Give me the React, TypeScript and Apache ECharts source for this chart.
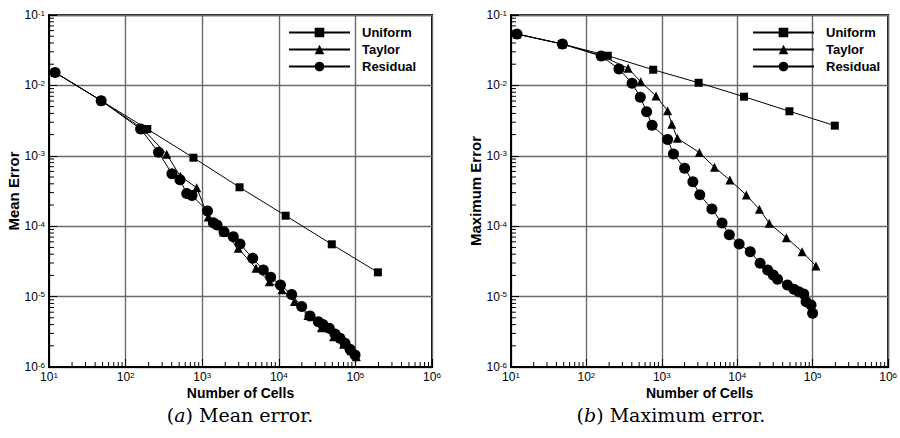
import React, { useEffect, useRef } from "react";
import * as echarts from "echarts";

// ---------- data ----------
const cellsUniform = [12, 48, 192, 768, 3072, 12288, 49152, 196608];
const meanUniform = [1.53e-2, 6.07e-3, 2.4e-3, 9.4e-4, 3.57e-4, 1.41e-4, 5.53e-5, 2.21e-5];
const maxUniform = [5.37e-2, 3.87e-2, 2.64e-2, 1.67e-2, 1.09e-2, 6.91e-3, 4.29e-3, 2.68e-3];

const cellsTaylorMean = [12, 48, 170, 344, 518, 847, 1200, 1900, 2958, 5035, 7515, 11000, 16000, 24000, 36000, 52000, 70000, 88000, 103000];
const meanTaylor = [1.53e-2, 6.07e-3, 2.38e-3, 1.05e-3, 5.13e-4, 3.52e-4, 1.35e-4, 8.3e-5, 4.85e-5, 2.52e-5, 1.63e-5, 1.25e-5, 8.5e-6, 5.4e-6, 3.6e-6, 2.7e-6, 2.1e-6, 1.7e-6, 1.4e-6];

const cellsResidualMean = [12, 48, 157, 269, 403, 513, 628, 736, 1173, 1397, 1560, 1926, 2548, 3116, 4563, 6277, 7834, 10517, 14734, 19900, 25540, 32800, 37760, 45600, 54200, 63000, 73200, 85100, 98900];
const meanResidual = [1.53e-2, 6.07e-3, 2.4e-3, 1.12e-3, 5.55e-4, 4.56e-4, 2.91e-4, 2.73e-4, 1.64e-4, 1.12e-4, 1.04e-4, 8.35e-5, 7.1e-5, 5.58e-5, 3.5e-5, 2.39e-5, 1.88e-5, 1.46e-5, 1.07e-5, 7.23e-6, 5.3e-6, 4.4e-6, 4.02e-6, 3.55e-6, 2.94e-6, 2.56e-6, 2.17e-6, 1.78e-6, 1.48e-6];

const cellsTaylorMax = [12, 48, 160, 357, 524, 837, 1191, 1356, 1608, 3143, 4989, 7980, 13180, 19660, 26560, 44770, 72440, 110400];
const maxTaylor = [5.37e-2, 3.87e-2, 2.62e-2, 1.75e-2, 1.13e-2, 7.06e-3, 4.38e-3, 2.8e-3, 1.77e-3, 1.11e-3, 6.87e-4, 4.53e-4, 2.77e-4, 1.74e-4, 1.1e-4, 6.87e-5, 4.35e-5, 2.72e-5];

const cellsResidualMax = [12, 48, 157, 270, 403, 518, 628, 743, 1191, 1426, 2004, 2578, 3183, 4606, 6278, 7840, 10590, 14870, 20090, 25300, 30000, 34200, 46200, 56400, 65500, 76100, 81800, 95100, 99800];
const maxResidual = [5.37e-2, 3.87e-2, 2.62e-2, 1.71e-2, 1.07e-2, 6.78e-3, 4.23e-3, 2.71e-3, 1.71e-3, 1.06e-3, 6.64e-4, 4.28e-4, 2.8e-4, 1.75e-4, 1.11e-4, 7.57e-5, 5.58e-5, 4.34e-5, 2.97e-5, 2.39e-5, 2.03e-5, 1.76e-5, 1.46e-5, 1.27e-5, 1.17e-5, 1.09e-5, 8.47e-6, 7.6e-6, 5.79e-6];

const seriesNames = ["Uniform", "Taylor", "Residual"];
const xDecadeExps = [1, 2, 3, 4, 5];
const yDecadeExps = [-6, -5, -4, -3, -2];
const minorMultipliers = [2, 3, 4, 5, 6, 7, 8, 9];
const xMin = 10, xMax = 1e6, yMin = 1e-6, yMax = 1e-1;

const zip = (xs: number[], ys: number[]) => xs.map((x, i) => [x, ys[i]]);

const xMinorVals: number[] = [];
xDecadeExps.forEach((e) => minorMultipliers.forEach((m) => xMinorVals.push(m * Math.pow(10, e))));
const yMinorVals: number[] = [];
yDecadeExps.forEach((e) => minorMultipliers.forEach((m) => yMinorVals.push(m * Math.pow(10, e))));

const FONT = "Liberation Sans";
const SERIF = "DejaVu Serif";

const powLabel = (v: number) => `{b|10}{s|${Math.round(Math.log10(v))}}`;
const labelRich = {
  b: { fontSize: 12, fontFamily: FONT, color: "#000", lineHeight: 12, verticalAlign: "bottom" },
  s: { fontSize: 8, fontFamily: FONT, color: "#000", lineHeight: 8, verticalAlign: "top" },
};

function buildOption() {
  const grids = [
    { left: 49, right: 468, top: 15, bottom: 71 },
    { left: 511, right: 6, top: 15, bottom: 71 },
  ];
  const yNames = ["Mean Error", "Maximum Error"];
  const xAxes = grids.map((_, i) => ({
    type: "log",
    logBase: 10,
    gridIndex: i,
    min: xMin,
    max: xMax,
    interval: 1,
    name: "Number of Cells",
    nameLocation: "middle",
    nameGap: 19,
    nameMoveOverlap: false,
    nameTextStyle: { fontFamily: FONT, fontWeight: "bold", fontSize: 14, color: "#000" },
    axisLine: { show: true, lineStyle: { color: "#000", width: 2 } },
    axisTick: { show: true, inside: true, length: 8, lineStyle: { color: "#000", width: 1 } },
    minorTick: { show: false },
    axisLabel: { formatter: powLabel, rich: labelRich, margin: 4, showMaxLabel: true, showMinLabel: true },
    splitLine: { show: true, lineStyle: { color: "#6a6a6a", width: 1.4 } },
  }));
  const yAxes = grids.map((_, i) => ({
    type: "log",
    logBase: 10,
    gridIndex: i,
    min: yMin,
    max: yMax,
    interval: 1,
    name: yNames[i],
    nameLocation: "middle",
    nameRotate: 90,
    nameGap: 28,
    nameMoveOverlap: false,
    nameTextStyle: { fontFamily: FONT, fontWeight: "bold", fontSize: 15, color: "#000" },
    axisLine: { show: true, lineStyle: { color: "#000", width: 2 } },
    axisTick: { show: true, inside: true, length: 8, lineStyle: { color: "#000", width: 1 } },
    minorTick: { show: false },
    axisLabel: { formatter: powLabel, rich: labelRich, margin: 4, showMaxLabel: true, showMinLabel: true },
    splitLine: { show: true, lineStyle: { color: "#6a6a6a", width: 1.4 } },
  }));

  const panels = [
    { u: meanUniform, tx: cellsTaylorMean, t: meanTaylor, rx: cellsResidualMean, r: meanResidual },
    { u: maxUniform, tx: cellsTaylorMax, t: maxTaylor, rx: cellsResidualMax, r: maxResidual },
  ];
  const series: any[] = [];
  panels.forEach((p, i) => {
    const common = {
      type: "line",
      xAxisIndex: i,
      yAxisIndex: i,
      lineStyle: { color: "#000", width: 1 },
      itemStyle: { color: "#000" },
      showAllSymbol: true,
      z: 5,
    };
    series.push({ ...common, name: seriesNames[0], symbol: "rect", symbolSize: 8, data: zip(cellsUniform, p.u) });
    series.push({ ...common, name: seriesNames[1], symbol: "triangle", symbolSize: 9, data: zip(p.tx, p.t) });
    series.push({ ...common, name: seriesNames[2], symbol: "circle", symbolSize: 11, data: zip(p.rx, p.r) });
    // minor ticks on bottom axis
    series.push({
      type: "custom",
      xAxisIndex: i,
      yAxisIndex: i,
      silent: true,
      z: 4,
      data: xMinorVals.map((v) => [v, yMin]),
      renderItem: (params: any, api: any) => {
        const pt = api.coord([api.value(0), api.value(1)]);
        return { type: "line", shape: { x1: pt[0], y1: pt[1], x2: pt[0], y2: pt[1] - 5 }, style: { stroke: "#000", lineWidth: 1 } };
      },
    });
    // minor ticks on left axis
    series.push({
      type: "custom",
      xAxisIndex: i,
      yAxisIndex: i,
      silent: true,
      z: 4,
      data: yMinorVals.map((v) => [xMin, v]),
      renderItem: (params: any, api: any) => {
        const pt = api.coord([api.value(0), api.value(1)]);
        return { type: "line", shape: { x1: pt[0], y1: pt[1], x2: pt[0] + 5, y2: pt[1] }, style: { stroke: "#000", lineWidth: 1 } };
      },
    });
  });

  const legendBase = {
    orient: "vertical",
    data: seriesNames,
    itemWidth: 61,
    itemHeight: 12,
    itemGap: 2,
    top: 25,
    padding: 0,
    selectedMode: false,
    textStyle: { fontFamily: FONT, fontWeight: "bold", fontSize: 13, lineHeight: 15, color: "#000", padding: [0, 0, 0, 7] },
  };

  const caption = (x: number, letter: string, rest: string) => ({
    type: "text",
    x,
    y: 415,
    style: {
      text: `({i|${letter}}) ${rest}`,
      font: `19px '${SERIF}'`,
      fill: "#000",
      align: "center",
      verticalAlign: "middle",
      rich: { i: { fontStyle: "italic", fontFamily: SERIF, fontSize: 19 } },
    },
  });

  return {
    animation: false,
    backgroundColor: "#fff",
    grid: grids.map((g) => ({ ...g, show: true, borderColor: "#000", borderWidth: 2, backgroundColor: "transparent" })),
    xAxis: xAxes,
    yAxis: yAxes,
    legend: [
      { ...legendBase, left: 288 },
      { ...legendBase, left: 752 },
    ],
    series,
    graphic: [caption(240, "a", "Mean error."), caption(671, "b", "Maximum error.")],
  };
}

export default function App() {
  const ref = useRef<HTMLDivElement>(null);
  useEffect(() => {
    if (!ref.current) return;
    const chart = echarts.init(ref.current, undefined, { renderer: "svg" });
    chart.setOption(buildOption() as any);
    return () => chart.dispose();
  }, []);
  return <div ref={ref} style={{ position: "fixed", left: 0, top: 0, width: 900, height: 438 }} />;
}
